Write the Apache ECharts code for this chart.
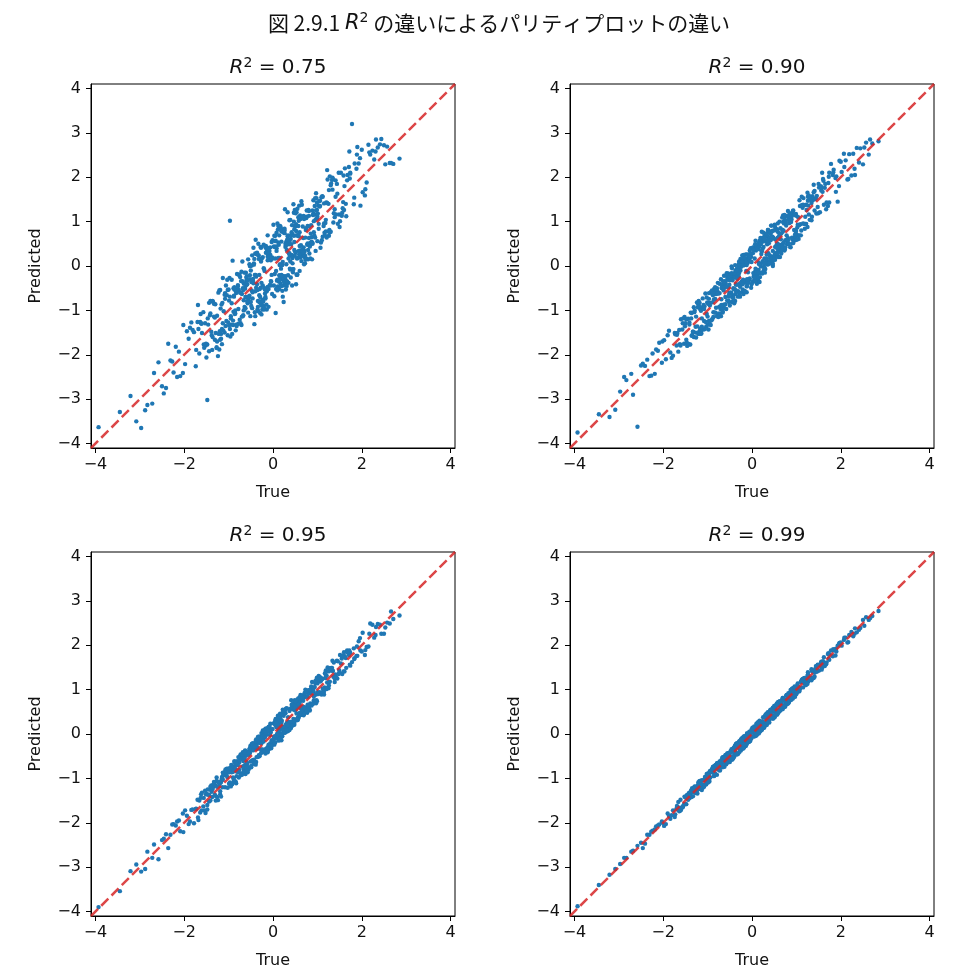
<!DOCTYPE html>
<html>
<head>
<meta charset="utf-8">
<script src="https://cdn.jsdelivr.net/npm/echarts@6/dist/echarts.min.js"></script>
<style>html,body{margin:0;padding:0;background:#fff}#c{width:975px;height:980px}</style>
</head>
<body>
<div id="c"></div>
<script>
const mainTitle = '図 2.9.1 ';
const mainTitleRest = ' の違いによるパリティプロットの違い';
const r2Labels = ['0.75', '0.90', '0.95', '0.99'];
const xName = 'True';
const yName = 'Predicted';
const axisRange = [-4.1, 4.1];
const xTickValues = [-4, -2, 0, 2, 4];
const yTickValues = [-4, -3, -2, -1, 0, 1, 2, 3, 4];

const trueVals = [
0.12,-0.85,1.34,-0.27,0.56,-1.62,0.03,0.91,-0.44,2.07,-1.13,0.38,-0.09,1.71,-0.66,0.22,-2.31,0.74,-0.51,1.05,
-0.18,0.47,-1.39,0.83,-0.02,1.22,-0.73,0.15,-1.87,0.61,0.29,-0.35,1.58,-0.97,0.06,-0.58,2.44,-1.21,0.41,-0.13,
0.95,-0.61,0.33,-1.05,1.89,-0.24,0.68,-0.79,0.11,-1.48,1.16,-0.31,0.52,-2.02,0.19,0.87,-0.47,1.41,-0.91,-0.05,
0.26,-1.31,0.72,2.63,-0.38,0.09,-0.69,1.03,-1.74,0.44,-0.16,1.27,-0.83,0.58,-0.29,1.93,-1.08,0.35,-0.55,0.01,
-3.93,0.64,-0.21,1.12,-0.94,0.17,-1.56,0.79,0.31,-0.42,2.19,-0.71,0.48,-1.17,0.08,-0.33,1.49,-0.88,0.24,-2.58,
0.53,-0.11,1.64,-0.64,0.36,-1.27,0.97,-0.19,0.66,-0.99,1.31,-0.48,0.14,-1.69,0.81,0.04,-0.57,2.28,-0.36,0.45,
-0.77,1.19,-0.26,0.59,-2.16,0.28,-0.52,1.78,-1.01,0.13,0.86,-0.39,1.08,-1.42,0.21,-0.07,0.69,-1.24,2.85,-0.63,
0.39,-0.93,1.45,-0.14,0.77,-1.81,0.05,-0.46,1.23,-0.68,0.32,-1.11,1.97,-0.23,0.54,-0.86,0.18,-1.35,0.92,-3.21,
1.02,-0.34,0.46,-1.52,0.71,-0.12,1.36,-0.74,0.25,-2.41,0.62,-0.03,1.53,-0.96,0.37,-0.28,2.11,-0.59,0.10,-1.19,
-0.45,0.84,-1.02,0.20,1.67,-0.67,0.43,-1.33,0.94,-0.17,0.57,-2.09,1.14,-0.40,0.16,-0.82,1.28,-0.08,0.63,-1.60,
0.30,-0.72,1.84,-1.15,0.49,0.02,-0.53,1.10,-1.78,0.76,-0.22,0.40,-0.90,2.36,-0.32,0.88,-1.44,0.27,-0.60,1.39,
-1.09,0.60,-0.15,1.50,-0.81,0.23,-2.72,0.99,-0.37,0.51,-1.26,0.07,1.74,-0.54,0.34,-0.98,1.20,-0.25,0.73,2.71,
-0.41,1.06,-1.63,0.42,-0.06,0.89,-1.20,0.55,2.00,-0.70,0.14,-1.37,0.80,-0.30,1.61,-0.87,0.28,-0.12,1.00,-2.24,
0.67,-0.50,1.25,-1.04,0.10,-3.08,0.47,1.44,-0.62,0.19,-1.50,0.93,-0.20,0.70,-0.95,2.50,-0.43,0.31,-1.14,0.58,
-0.27,0.82,-1.90,0.37,1.18,-0.56,0.05,-0.76,1.56,-1.30,0.60,-0.10,0.99,-1.66,0.26,1.82,-0.36,-0.84,0.50,-0.01,
1.30,-0.65,0.22,-1.46,0.75,-2.88,0.39,1.07,-0.29,0.65,-1.07,0.12,2.15,-0.49,0.85,-1.23,0.33,-0.17,1.60,-0.78,
0.44,-1.36,0.96,-0.24,0.52,-1.98,1.35,-0.60,0.17,-0.89,1.90,-0.11,0.70,-1.55,0.29,2.57,-0.40,0.90,-0.74,-2.97,
0.08,1.15,-0.52,0.62,-1.17,0.35,1.72,-0.31,-0.05,-1.41,0.78,2.32,-0.66,0.48,-1.00,1.26,-0.19,0.57,-2.50,0.15
];
const trueVals2 = [
-0.32,0.71,-1.18,0.05,1.46,-0.63,0.27,-0.89,0.52,-1.73,0.98,-0.14,0.36,-0.47,1.83,-1.02,0.13,-0.28,0.64,-2.12,
0.45,-0.06,1.09,-1.36,0.21,-0.53,0.78,-0.97,2.24,-0.19,0.59,-1.21,0.02,1.37,-0.71,0.30,-1.57,0.89,-0.38,0.16,
-0.84,1.28,-0.12,0.43,-2.36,0.69,-0.44,1.01,-0.25,0.08,-1.09,1.62,-0.58,0.24,-0.93,0.81,2.02,-0.36,0.54,-1.48,
0.37,-0.75,0.11,-1.64,1.19,-0.22,0.62,-0.04,-1.27,0.93,-0.51,1.74,-0.15,0.48,-2.68,0.19,-0.67,1.33,-0.09,0.72,
-1.12,0.26,1.55,-0.41,0.84,-0.87,0.07,-1.94,0.51,-0.30,1.15,-0.61,2.41,-0.17,0.38,-1.31,0.66,-0.02,-0.79,1.04,
0.17,-1.53,0.91,-0.35,0.56,-1.03,1.42,-0.11,0.29,-0.68,2.08,-0.48,0.74,-1.22,0.03,1.21,-0.57,-3.45,0.41,-0.26,
1.68,-0.92,0.33,-0.14,0.79,-1.41,0.12,-0.55,1.26,-0.33,0.58,-2.27,0.95,-0.07,0.47,-0.81,1.51,-1.15,0.22,-0.43,
-0.64,0.99,-0.18,1.88,-1.06,0.35,-0.39,0.68,-1.68,0.14,1.12,-0.26,0.53,-0.95,2.66,-0.50,0.09,-1.33,0.82,-0.12,
0.61,-0.29,-1.47,0.40,1.34,-0.73,0.18,-0.01,-1.19,0.87,-0.56,0.28,1.59,-0.85,0.46,-2.03,0.70,-0.20,1.03,-0.66,
-0.08,0.52,-0.99,1.17,-0.37,0.23,-1.61,0.76,-0.23,2.31,-0.70,0.10,0.96,-1.26,0.34,-0.46,1.41,-0.13,-2.83,0.63,
0.89,-0.42,0.15,-1.08,0.60,-0.16,1.73,-0.78,0.39,-0.05,-1.38,1.06,-0.60,0.25,-0.34,0.81,-1.84,0.49,1.25,-0.21,
-0.52,1.39,0.06,-0.90,0.44,-2.19,0.73,-0.27,1.00,-0.62,0.19,-1.16,1.96,-0.40,0.57,-0.83,0.31,2.53,-0.10,-1.44,
0.28,-0.69,1.22,-0.20,0.66,-1.29,-0.03,0.83,-0.45,1.48,-0.97,0.14,-0.31,0.92,-1.70,0.50,1.65,-0.58,0.07,-2.46,
1.11,-0.35,0.42,-0.76,0.20,1.57,-1.13,0.55,-0.18,-0.88,0.75,-0.49,2.17,-0.11,0.32,-1.51,0.97,-0.64,0.04,1.30
];

const pred075 = [
0.53,-1.07,1.99,-0.85,0.68,-1.29,-0.68,1.18,-0.39,1.59,-0.27,0.23,0.30,2.23,-1.00,-0.69,-2.13,0.81,-1.13,1.34,
-0.62,1.20,-1.48,0.46,0.19,2.16,-1.29,0.18,-1.39,0.35,-0.53,0.26,1.44,1.02,-1.06,-0.41,2.86,-1.88,0.49,0.41,
0.64,-0.15,1.21,-1.24,2.51,-0.98,0.63,-0.46,-0.46,-3.02,0.75,-0.20,-0.41,-1.33,0.55,0.65,-0.95,1.56,0.12,-0.34,
0.84,-1.66,0.06,2.32,-0.24,-0.33,0.10,0.95,-2.26,0.71,0.45,0.81,-0.61,0.67,-1.06,2.31,-0.61,0.17,-0.80,0.93,
-3.63,0.11,-0.05,1.56,-1.32,0.88,-1.77,0.15,0.36,-1.31,2.51,-0.13,0.36,-1.64,0.34,0.50,1.16,-0.69,-0.81,-2.17,
-0.19,0.25,1.40,-0.15,0.49,-1.85,1.64,-0.50,0.23,-0.78,1.86,-0.55,-0.52,-0.88,0.63,0.43,-0.84,2.40,0.28,-0.07,
-0.54,0.78,-0.89,1.36,-2.50,0.43,0.00,3.20,-1.27,-0.35,0.92,0.59,0.53,-1.11,0.02,-0.43,1.13,-2.03,2.42,-0.51,
-0.08,-0.31,1.63,-0.98,0.48,-1.44,0.56,-0.59,1.95,-1.13,0.59,-1.02,1.36,0.20,0.17,-1.08,0.84,-0.81,0.76,-2.93,
1.36,-0.92,1.39,-1.79,0.20,0.13,0.98,-0.60,-0.44,-2.75,1.08,-0.20,2.10,-1.59,0.29,0.43,1.88,-0.23,-0.31,-0.54,
-0.34,0.52,-0.54,0.79,1.93,-1.11,-0.44,-1.14,1.35,-0.73,0.90,-2.48,0.90,0.28,0.04,-1.35,2.02,0.20,0.28,-1.51,
0.04,-0.34,2.31,-1.76,1.26,-0.44,-0.67,0.58,-1.49,1.11,-0.90,0.61,-1.23,2.67,0.24,0.15,-1.92,1.28,-0.43,1.28,
-0.65,0.76,-0.54,0.88,-0.54,0.76,-3.10,1.07,0.27,0.30,-1.70,-0.52,2.10,-0.72,-0.21,-0.27,1.43,0.17,0.64,2.30,
-1.04,1.35,-1.08,0.25,0.42,1.25,-1.47,-0.19,2.62,-0.63,-0.21,-1.89,1.26,-0.52,1.80,-0.53,-0.30,0.69,0.56,-2.40,
0.89,-0.81,0.78,-0.66,-0.55,-3.50,1.00,1.85,-0.70,0.78,-2.06,0.69,-0.07,0.31,-1.13,2.72,0.06,-0.45,-0.83,1.02,
0.10,0.28,-1.64,1.03,0.97,-1.05,0.17,-0.19,1.20,-0.86,0.45,-0.92,1.26,-1.97,0.74,1.39,-0.41,-1.45,0.89,0.17,
1.82,-0.40,-0.24,-1.32,1.08,-3.25,0.10,0.41,0.16,1.38,-1.35,0.18,2.73,-0.90,0.73,-0.60,0.67,-0.70,1.26,-0.97,
0.06,-0.79,1.05,-0.76,0.94,-2.21,1.96,-0.26,-0.40,-1.03,2.68,0.34,0.04,-1.84,0.46,2.69,-1.13,1.15,-0.25,-3.65,
0.75,0.96,-0.21,0.19,-1.53,0.59,2.58,-0.80,0.13,-0.79,0.51,2.85,-0.77,0.83,-0.53,0.68,-0.51,0.71,-2.71,-0.29
];
const pred075b = [
0.16,0.34,-0.96,0.68,0.95,-0.49,-0.41,-0.50,0.79,-1.89,1.53,-0.57,0.28,0.24,1.54,-1.56,0.48,-0.49,1.46,-1.93,
-0.14,0.25,1.55,-1.60,-0.56,0.04,0.90,-1.42,2.60,-0.11,0.26,-0.55,0.44,1.19,-1.33,0.55,-1.04,0.50,-0.49,0.90,
-0.56,0.76,-0.47,0.92,-1.75,0.42,0.41,1.18,-0.88,0.40,-1.50,2.20,-0.80,-0.23,-0.84,1.24,1.66,0.30,-0.20,-1.77,
0.56,-1.21,0.82,-1.26,1.04,-0.80,1.06,-0.35,-1.83,1.16,0.00,2.08,-0.87,0.54,-2.41,-0.20,-0.54,1.94,0.26,0.24,
-1.45,0.80,1.13,-0.20,0.17,-0.48,-0.11,-1.47,1.19,-0.82,1.41,-0.70,2.74,0.42,-0.06,-1.16,0.38,-0.63,-0.43,1.46,
-0.28,-1.29,1.48,-0.54,0.18,-0.31,1.16,0.30,-0.35,-0.50,1.73,0.01,0.85,-1.53,0.68,0.64,-0.79,-3.29,0.70,-1.09,
2.05,-1.53,0.59,0.38,0.36,-1.07,0.90,-0.69,1.71,-1.02,0.34,-2.15,1.53,-0.43,0.68,-0.18,1.01,-1.42,0.09,0.03,
-0.92,1.43,-0.73,2.19,-0.44,-0.38,-0.20,0.31,-1.42,0.69,0.66,-0.38,1.21,-1.18,2.32,-0.10,-0.50,-0.85,0.89,0.21,
1.14,-0.70,-1.18,-0.26,1.72,-0.60,-0.06,0.58,-1.66,0.55,0.15,0.50,2.04,-1.00,-0.07,-2.41,1.06,-0.98,0.84,-0.39,
0.34,0.69,-1.34,0.69,0.27,-0.32,-1.30,1.25,-0.44,2.58,-1.14,0.96,0.34,-1.12,0.69,-0.73,1.93,-0.53,-3.13,0.47,
0.52,0.16,0.02,-0.74,-0.11,0.30,1.97,-1.30,1.04,-0.44,-1.56,1.47,-0.33,-0.36,-0.79,1.13,-1.27,0.23,1.40,0.48,
-0.30,1.10,0.57,-1.33,0.18,-1.82,0.14,0.41,1.11,-0.95,-0.45,-0.87,2.43,-0.57,1.10,-1.32,0.49,2.29,-0.52,-0.83,
-0.23,-0.34,1.42,-0.94,1.09,-1.51,0.54,0.44,-0.29,2.10,-0.69,-0.32,-0.66,1.01,-1.26,0.32,1.12,-0.33,0.44,-2.87,
1.57,-0.98,0.76,-0.21,-0.22,1.30,-1.29,1.29,-0.53,-0.67,0.17,-0.36,2.56,0.38,-0.35,-1.75,1.25,-0.98,-0.18,0.77
];

const pred090 = [
-0.09,-0.51,1.42,-0.69,0.83,-1.77,0.42,0.60,-0.32,2.53,-1.18,0.10,0.10,1.35,-0.43,0.77,-2.48,1.05,-0.60,0.61,
0.11,0.34,-1.77,1.05,-0.49,1.38,-0.40,-0.09,-1.46,0.67,-0.06,-0.17,2.10,-1.24,0.17,-0.97,2.65,-0.86,0.22,-0.11,
0.62,-0.36,0.26,-0.62,1.67,-0.60,0.82,-0.50,-0.40,-1.66,1.53,-0.57,0.60,-1.70,0.05,0.42,-0.28,1.69,-1.22,0.35,
0.43,-1.60,1.10,2.51,-0.79,0.35,-0.75,0.69,-1.51,0.91,-0.36,1.36,-0.48,0.31,-0.16,1.45,-1.24,0.66,-0.31,-0.36,
-3.75,0.85,-0.53,1.56,-0.83,-0.36,-1.29,0.60,0.67,-0.50,2.52,-1.13,0.63,-1.42,0.57,-0.29,1.19,-0.66,0.11,-3.62,
0.25,0.26,1.76,-0.87,0.81,-1.37,0.58,0.07,0.73,-1.32,1.51,-0.18,-0.32,-1.55,0.63,-0.23,-0.16,2.53,-0.41,0.79,
-0.38,0.95,-0.10,0.22,-1.88,0.17,-0.81,2.30,-0.82,0.46,0.43,-0.53,1.35,-1.77,0.27,0.17,0.49,-0.82,2.81,-0.94,
0.61,-1.33,1.18,0.17,0.91,-2.07,-0.31,-0.01,1.26,-0.50,0.10,-0.73,2.37,-0.35,0.83,-0.76,-0.25,-1.56,1.17,-3.40,
0.87,-0.06,0.12,-1.15,0.80,-0.59,1.57,-0.92,0.55,-2.25,0.37,0.40,1.21,-0.84,0.29,-0.66,2.38,-0.40,0.45,-1.48,
-0.81,0.97,-0.71,-0.01,1.28,-0.43,0.91,-1.48,0.64,0.03,0.51,-1.73,1.31,-0.84,0.43,-1.05,1.16,0.24,0.71,-1.20,
0.56,-0.91,2.17,-1.01,0.17,0.41,-0.48,0.69,-2.02,0.97,0.24,0.24,-0.62,2.66,-0.69,0.99,-1.19,-0.02,-0.70,1.83,
-1.43,0.33,0.07,1.85,-0.94,-0.17,-2.43,1.17,-0.63,0.93,-1.14,-0.13,1.43,-0.17,0.49,-1.43,1.11,-0.02,0.35,2.76,
-0.21,0.69,-1.77,0.72,-0.31,1.05,-0.79,0.47,2.35,-1.13,0.38,-1.18,0.52,-0.23,1.92,-1.04,0.66,-0.46,1.13,-1.97,
0.36,-0.32,1.65,-1.26,0.43,-3.24,0.00,1.53,-0.36,-0.16,-1.29,1.25,-0.31,1.14,-1.24,2.29,-0.28,0.07,-1.52,0.64,
-0.39,1.09,-1.56,0.07,1.37,-0.20,-0.16,-1.09,1.70,-1.04,0.20,0.07,0.80,-1.93,0.75,2.05,-0.42,-0.55,0.15,0.09,
1.04,-0.35,0.33,-1.80,0.58,-2.50,0.63,1.48,-0.61,0.60,-0.91,-0.30,1.95,-0.22,1.19,-1.36,0.05,0.02,1.96,-0.56,
0.77,-1.57,0.60,0.01,0.43,-1.67,1.11,-0.46,0.57,-1.19,2.02,-0.30,0.99,-1.18,-0.15,2.78,-0.22,0.64,-1.07,-2.83,
-0.32,1.38,-0.69,1.00,-0.97,0.03,1.87,-0.03,-0.28,-1.32,1.13,2.05,-1.05,0.64,-1.14,1.56,0.25,0.39,-2.24,0.08
];
const pred090b = [
-0.06,0.53,-0.83,-0.24,1.58,-0.22,0.05,-0.82,0.14,-1.54,0.67,0.10,0.81,-0.60,2.11,-1.08,-0.27,0.05,0.47,-1.91,
0.11,0.16,0.94,-1.06,0.60,-0.78,0.69,-0.61,2.04,-0.63,0.76,-1.53,0.29,1.48,-0.97,-0.07,-1.43,1.18,0.02,0.04,
-1.05,1.59,0.06,0.07,-2.11,0.77,-0.71,0.59,0.08,-0.06,-0.88,1.38,-0.21,0.39,-1.23,1.24,2.12,-0.55,0.21,-1.20,
0.75,-0.62,-0.18,-1.44,0.84,0.04,0.48,0.28,-1.50,0.52,-0.42,2.10,-0.33,0.21,-2.90,0.63,-0.98,1.49,-0.14,0.96,
-0.93,-0.11,1.80,-0.52,1.14,-1.15,0.49,-2.10,0.26,0.04,0.96,-0.34,2.33,-0.56,0.51,-0.93,0.45,0.21,-1.13,1.10,
0.48,-1.75,0.51,-0.18,0.80,-1.36,1.51,-0.39,0.65,-0.48,2.23,-0.60,0.37,-0.93,-0.16,0.95,-0.22,-3.34,0.17,0.16,
1.43,-0.58,0.17,0.26,0.49,-1.27,-0.23,-0.28,1.47,-0.42,0.96,-2.47,0.81,0.24,0.05,-0.63,1.77,-1.48,0.34,-0.66,
-0.36,0.78,0.15,1.98,-1.42,0.57,-0.52,1.09,-1.51,-0.16,1.37,0.11,0.29,-0.89,2.85,-0.89,0.38,-1.48,0.50,0.02,
0.44,0.10,-1.73,0.63,1.03,-0.61,0.53,-0.41,-0.91,1.03,-0.78,-0.06,1.67,-0.55,0.66,-2.18,0.43,0.23,0.93,-1.02,
-0.37,0.88,-0.85,0.95,-0.10,-0.15,-1.79,1.00,0.10,2.19,-0.30,-0.15,1.15,-1.61,0.27,-0.16,1.25,0.08,-2.57,0.20,
1.11,-0.72,0.52,-0.97,0.41,-0.57,2.01,-0.62,0.05,0.20,-1.05,0.92,-0.86,0.64,-0.27,0.58,-1.95,0.80,0.88,-0.41,
-0.65,1.66,-0.26,-0.55,0.62,-2.43,1.15,-0.47,0.71,-0.49,0.49,-1.53,1.80,-0.16,0.29,-0.74,0.69,2.67,-0.31,-1.75,
0.62,-0.88,0.95,0.01,0.28,-1.00,0.10,0.50,-0.05,1.33,-0.74,-0.14,-0.14,1.24,-1.79,0.15,1.85,-0.47,-0.35,-2.20,
0.80,-0.10,0.58,-1.15,0.50,1.77,-1.37,0.43,0.18,-0.61,0.42,-0.31,1.96,-0.45,0.73,-1.36,0.71,-0.55,0.36,1.53
];

const pred095 = [
0.27,-1.07,1.65,-0.35,0.37,-1.36,-0.09,0.96,-0.23,1.78,-1.03,0.56,-0.34,1.78,-0.80,0.55,-2.27,0.54,-0.27,0.94,
-0.35,0.56,-1.16,0.53,0.11,1.16,-0.46,-0.06,-1.97,0.77,0.05,-0.33,1.77,-1.12,0.34,-0.67,2.26,-1.09,0.76,-0.39,
1.15,-0.74,0.06,-0.91,1.97,0.01,0.52,-0.83,0.41,-1.70,1.05,-0.14,0.58,-2.21,-0.14,0.99,-0.25,1.34,-0.76,0.04,
0.03,-1.13,0.83,2.49,-0.12,0.00,-0.89,1.31,-1.69,0.27,-0.03,1.48,-1.11,0.61,-0.10,2.09,-1.20,0.09,-0.47,0.24,
-3.90,0.43,-0.05,1.02,-0.70,-0.10,-1.44,0.98,0.25,-0.28,2.49,-0.89,0.25,-1.08,-0.07,-0.06,1.44,-1.08,0.41,-2.82,
0.66,-0.36,1.71,-0.44,0.20,-0.98,0.89,-0.08,0.44,-1.12,1.49,-0.23,0.10,-1.88,0.96,0.26,-0.86,2.17,-0.30,0.27,
-0.98,1.33,0.02,0.47,-1.97,0.04,-0.43,1.62,-0.78,0.06,1.07,-0.69,1.20,-1.25,0.02,-0.02,0.55,-1.49,2.67,-0.37,
0.57,-0.86,1.25,0.10,0.48,-1.70,0.21,-0.59,1.50,-0.73,0.14,-0.89,1.88,0.08,0.31,-0.72,0.16,-1.15,0.76,-3.09,
0.90,-0.14,0.55,-1.78,0.88,-0.30,1.29,-0.50,0.04,-2.26,0.88,-0.14,1.59,-0.77,0.09,-0.15,1.96,-0.63,0.32,-1.36,
-0.21,0.69,-1.21,0.30,1.88,-0.61,0.19,-1.17,1.06,-0.44,0.76,-2.19,0.94,-0.32,0.41,-0.95,1.45,-0.30,0.57,-1.32,
0.21,-0.50,1.71,-0.97,0.76,-0.18,-0.42,1.25,-2.01,0.59,-0.08,0.14,-0.85,2.48,-0.50,1.17,-1.52,0.47,-0.85,1.25,
-0.93,0.83,-0.33,1.39,-0.61,0.09,-2.79,0.74,-0.24,0.72,-1.42,0.33,1.83,-0.76,0.38,-0.81,1.01,-0.14,1.00,2.59,
-0.64,1.18,-1.44,0.26,0.23,0.68,-1.12,0.78,1.86,-0.53,-0.13,-1.42,0.98,-0.20,1.41,-0.63,0.17,-0.31,1.14,-2.03,
0.86,-0.62,1.03,-0.78,-0.07,-2.94,0.57,1.65,-0.90,0.25,-1.35,0.74,0.03,0.60,-0.77,2.26,-0.58,0.58,-1.20,0.37,
-0.06,0.56,-2.03,0.52,1.26,-0.75,0.30,-0.64,1.35,-1.39,0.80,-0.24,1.27,-1.50,0.03,1.93,-0.18,-1.08,0.53,-0.18,
1.43,-0.85,0.46,-1.37,0.50,-3.04,0.27,1.26,-0.07,0.51,-0.80,0.22,1.97,-0.72,1.01,-1.18,0.12,-0.03,1.84,-0.86,
0.26,-1.21,1.19,-0.35,0.32,-1.72,1.42,-0.84,0.34,-0.77,1.76,0.10,0.61,-1.72,0.57,2.51,-0.27,0.68,-0.55,-3.10,
0.18,0.98,-0.32,0.75,-1.41,0.27,1.88,-0.06,-0.24,-1.19,0.66,2.41,-0.52,0.21,-0.82,1.16,-0.40,0.80,-2.39,0.35
];
const pred095b = [
-0.48,0.92,-1.09,-0.19,1.64,-0.70,0.54,-1.08,0.65,-1.68,0.76,0.02,0.25,-0.22,1.69,-0.82,-0.15,-0.20,0.61,-1.95,
0.68,-0.21,0.89,-1.24,-0.05,-0.34,0.84,-1.09,2.46,0.09,0.42,-1.11,-0.07,1.61,-0.56,0.09,-1.63,1.02,-0.63,0.46,
-0.70,1.18,0.13,0.61,-2.57,0.42,-0.33,1.21,-0.41,0.15,-0.87,1.75,-0.82,0.16,-0.76,0.62,2.28,-0.33,0.69,-1.60,
0.15,-0.58,0.15,-1.77,1.43,-0.13,0.44,-0.32,-1.06,0.88,-0.37,1.54,0.12,0.59,-2.49,-0.04,-0.75,1.49,0.16,0.58,
-0.92,0.14,1.70,-0.64,0.91,-0.61,-0.10,-1.84,0.73,-0.49,0.89,-0.49,2.46,0.12,0.24,-1.37,0.84,-0.23,-0.70,1.28,
-0.01,-1.28,1.02,-0.16,0.32,-0.97,1.27,0.11,0.21,-0.41,1.89,-0.61,0.95,-1.08,-0.24,1.31,-0.40,-3.54,0.21,-0.21,
1.84,-1.13,0.19,0.10,0.91,-1.50,0.32,-0.80,1.09,-0.15,0.66,-2.04,0.73,0.06,0.28,-0.85,1.78,-1.00,0.11,-0.67,
-0.55,1.25,-0.38,1.76,-0.88,0.20,-0.16,0.75,-1.94,0.28,0.94,-0.05,0.46,-1.18,2.76,-0.31,-0.04,-1.08,0.98,-0.41,
0.47,-0.11,-1.25,0.13,1.43,-0.93,0.44,0.11,-1.29,0.64,-0.41,0.47,1.41,-0.79,0.34,-1.79,0.45,-0.03,1.23,-0.73,
0.17,0.33,-0.86,1.37,-0.52,0.51,-1.72,0.52,-0.06,2.23,-0.92,0.21,1.20,-1.19,0.08,-0.30,1.27,-0.33,-2.65,0.85,
0.68,-0.28,-0.11,-0.85,0.70,0.03,1.56,-0.52,0.27,-0.25,-1.30,1.28,-0.75,0.16,-0.07,0.57,-1.71,0.31,1.41,-0.17,
-0.33,1.17,0.21,-0.98,0.19,-2.06,0.94,-0.43,0.94,-0.38,0.00,-1.04,2.16,-0.67,0.66,-0.66,0.10,2.40,0.16,-1.37,
0.17,-0.46,1.04,0.07,0.80,-1.50,-0.27,0.99,-0.37,1.35,-0.77,0.39,-0.50,0.85,-1.48,0.62,1.49,-0.83,0.25,-2.36,
1.24,-0.52,0.66,-0.81,0.00,1.75,-0.87,0.32,-0.07,-1.02,0.96,-0.75,2.26,0.08,0.20,-1.36,0.69,-0.42,-0.05,1.47
];

const pred099 = [
0.18,-0.94,1.46,-0.31,0.64,-1.73,0.05,0.84,-0.34,2.12,-1.26,0.41,-0.15,1.80,-0.52,0.14,-2.27,0.64,-0.44,1.03,
-0.26,0.58,-1.34,0.71,0.05,1.19,-0.64,0.01,-1.85,0.71,0.23,-0.22,1.49,-0.93,-0.05,-0.50,2.39,-1.09,0.39,-0.07,
1.04,-0.66,0.21,-0.98,1.92,-0.13,0.60,-0.66,0.07,-1.58,1.22,-0.44,0.62,-2.00,0.12,0.99,-0.56,1.38,-0.83,-0.01,
0.16,-1.23,0.76,2.57,-0.26,0.00,-0.67,1.14,-1.87,0.51,-0.19,1.19,-0.73,0.53,-0.20,1.99,-1.19,0.38,-0.62,0.14,
-3.88,0.53,-0.14,1.22,-0.98,0.30,-1.65,0.77,0.39,-0.54,2.23,-0.62,0.41,-1.06,-0.02,-0.30,1.43,-0.74,0.16,-2.52,
0.46,-0.02,1.53,-0.61,0.48,-1.33,1.05,-0.32,0.71,-0.89,1.27,-0.57,0.25,-1.62,0.69,0.06,-0.51,2.20,-0.23,0.42,
-0.66,1.14,-0.35,0.65,-2.08,0.16,-0.48,1.88,-1.08,0.26,0.76,-0.37,1.02,-1.33,0.26,-0.18,0.81,-1.27,2.77,-0.56,
0.35,-0.83,1.52,-0.27,0.86,-1.83,-0.03,-0.34,1.12,-0.62,0.35,-1.21,2.05,-0.12,0.48,-0.95,0.23,-1.22,0.80,-3.17,
1.10,-0.46,0.51,-1.41,0.64,-0.09,1.26,-0.65,0.38,-2.47,0.53,0.04,1.55,-1.07,0.47,-0.32,2.17,-0.47,-0.03,-1.24,
-0.54,0.90,-0.90,0.15,1.57,-0.59,0.54,-1.40,0.97,-0.08,0.44,-2.04,1.24,-0.48,0.14,-0.70,1.22,-0.04,0.70,-1.71,
0.37,-0.82,1.88,-1.06,0.37,0.13,-0.58,1.18,-1.72,0.67,-0.09,0.37,-0.80,2.29,-0.27,0.77,-1.36,0.21,-0.48,1.41,
-1.15,0.72,-0.23,1.55,-0.71,0.12,-2.65,0.95,-0.28,0.38,-1.23,0.15,1.67,-0.43,0.24,-0.92,1.22,-0.37,0.77,2.66,
-0.31,0.99,-1.66,0.54,-0.15,0.94,-1.12,0.44,2.06,-0.74,0.25,-1.28,0.68,-0.23,1.56,-0.74,0.20,-0.09,0.90,-2.18,
0.56,-0.42,1.31,-1.14,0.23,-3.04,0.40,1.53,-0.74,0.24,-1.58,1.04,-0.17,0.64,-0.85,2.57,-0.56,0.43,-1.18,0.66,
-0.22,0.73,-1.79,0.31,1.26,-0.44,-0.05,-0.79,1.63,-1.20,0.49,-0.06,0.91,-1.53,0.21,1.75,-0.27,-0.78,0.38,0.10,
1.22,-0.54,0.18,-1.39,0.62,-2.79,0.44,0.97,-0.17,0.59,-1.04,0.22,2.06,-0.51,0.93,-1.34,0.46,-0.24,1.64,-0.69,
0.53,-1.42,0.85,-0.11,0.54,-2.07,1.42,-0.50,0.05,-0.84,1.86,-0.03,0.81,-1.62,0.19,2.63,-0.43,1.02,-0.82,-2.93,
-0.04,1.19,-0.43,0.54,-1.06,0.30,1.82,-0.44,0.02,-1.38,0.68,2.38,-0.54,0.39,-1.04,1.34,-0.06,0.46,-2.45,0.08
];
const pred099b = [
-0.25,0.61,-1.14,0.17,1.40,-0.54,0.14,-0.87,0.63,-1.81,1.03,-0.25,0.49,-0.51,1.91,-1.09,0.23,-0.40,0.67,-2.06,
0.36,0.05,1.04,-1.28,0.09,-0.50,0.88,-1.04,2.30,-0.30,0.72,-1.23,0.11,1.27,-0.66,0.42,-1.65,0.85,-0.31,0.03,
-0.74,1.24,-0.23,0.49,-2.27,0.56,-0.37,0.93,-0.13,0.11,-1.15,1.73,-0.68,0.29,-0.85,0.69,1.99,-0.23,0.47,-1.44,
0.31,-0.66,0.23,-1.74,1.23,-0.29,0.73,-0.16,-1.19,0.95,-0.60,1.80,-0.05,0.35,-2.63,0.15,-0.54,1.25,-0.02,0.61,
-1.04,0.14,1.60,-0.31,0.76,-0.74,0.04,-2.03,0.58,-0.19,1.05,-0.57,2.35,-0.05,0.27,-1.22,0.61,0.04,-0.92,1.06,
0.28,-1.58,0.82,-0.28,0.69,-1.13,1.46,0.01,0.22,-0.71,2.17,-0.38,0.62,-1.16,-0.05,1.10,-0.54,-3.40,0.53,-0.32,
1.61,-0.82,0.21,-0.09,0.87,-1.45,0.23,-0.64,1.39,-0.27,0.47,-2.20,0.90,-0.17,0.59,-0.78,1.43,-1.06,0.09,-0.39,
-0.52,0.91,-0.12,1.77,-0.97,0.48,-0.45,0.78,-1.70,0.02,1.19,-0.22,0.44,-0.84,2.61,-0.63,0.17,-1.31,0.92,-0.19,
0.51,-0.22,-1.38,0.35,1.21,-0.62,0.20,-0.09,-1.07,0.81,-0.52,0.38,1.52,-0.72,0.35,-1.97,0.78,-0.32,1.06,-0.75,
-0.03,0.64,-1.09,1.25,-0.41,0.12,-1.48,0.69,-0.14,2.26,-0.64,-0.03,1.07,-1.29,0.44,-0.54,1.29,-0.06,-2.79,0.74,
0.78,-0.38,0.25,-1.17,0.72,-0.22,1.70,-0.67,0.26,0.02,-1.29,0.96,-0.55,0.17,-0.21,0.83,-1.91,0.55,1.13,-0.13,
-0.43,1.26,0.12,-0.79,0.36,-2.15,0.63,-0.15,0.95,-0.54,0.07,-1.13,2.03,-0.51,0.67,-0.89,0.44,2.44,-0.08,-1.48,
0.20,-0.59,1.25,-0.32,0.73,-1.18,-0.12,0.88,-0.58,1.56,-1.01,0.26,-0.25,0.82,-1.68,0.63,1.58,-0.63,0.16,-2.57,
1.17,-0.46,0.55,-0.72,0.11,1.45,-1.05,0.65,-0.24,-0.77,0.72,-0.42,2.07,0.01,0.27,-1.42,0.84,-0.62,0.14,1.22
];

const allTrue = trueVals.concat(trueVals2);
const predSets = [
  pred075.concat(pred075b),
  pred090.concat(pred090b),
  pred095.concat(pred095b),
  pred099.concat(pred099b)
];

const chart = echarts.init(document.getElementById('c'), null, {renderer: 'canvas'});

const gridLefts = [91, 570];
const gridTops = [84, 552];
const gridSize = 364;
const minusFmt = v => String(v).replace('-', '\u2212');

const grids = [], xAxes = [], yAxes = [], series = [], titles = [];

titles.push({
  text: mainTitle + '{i|R}{s|2}' + mainTitleRest,
  left: 494, top: 6, textAlign: 'center',
  textStyle: {
    fontSize: 21, fontWeight: 'normal', color: '#111',
    fontFamily: '"Noto Sans CJK JP", "DejaVu Sans", sans-serif',
    rich: {
      i: {fontSize: 21, fontStyle: 'italic', fontFamily: '"DejaVu Sans"', color: '#111'},
      s: {fontSize: 14, fontFamily: '"DejaVu Sans"', color: '#111', padding: [0, 0, 11, 0]}
    }
  }
});

for (let k = 0; k < 4; k++) {
  const col = k % 2, row = Math.floor(k / 2);
  const left = gridLefts[col], top = gridTops[row];
  grids.push({left: left, top: top, width: gridSize, height: gridSize, show: true,
    borderColor: '#000', borderWidth: 1, backgroundColor: '#fff', containLabel: false});
  xAxes.push({
    gridIndex: k, type: 'value', min: axisRange[0], max: axisRange[1],
    name: xName, nameLocation: 'middle', nameGap: 37,
    nameTextStyle: {fontSize: 16, color: '#111', fontFamily: '"DejaVu Sans"'},
    axisLine: {show: true, onZero: false, lineStyle: {color: '#000', width: 1}},
    axisTick: {show: true, length: 5, customValues: xTickValues, lineStyle: {color: '#000'}},
    axisLabel: {show: true, customValues: xTickValues, formatter: minusFmt, margin: 9,
      fontSize: 16, color: '#111', fontFamily: '"DejaVu Sans"'},
    splitLine: {show: false}
  });
  yAxes.push({
    gridIndex: k, type: 'value', min: axisRange[0], max: axisRange[1],
    name: yName, nameLocation: 'middle', nameGap: 47,
    nameTextStyle: {fontSize: 16, color: '#111', fontFamily: '"DejaVu Sans"'},
    axisLine: {show: true, onZero: false, lineStyle: {color: '#000', width: 1}},
    axisTick: {show: true, length: 5, customValues: yTickValues, lineStyle: {color: '#000'}},
    axisLabel: {show: true, customValues: yTickValues, formatter: minusFmt, margin: 10,
      fontSize: 16, color: '#111', fontFamily: '"DejaVu Sans"'},
    splitLine: {show: false}
  });
  const pts = allTrue.map((t, i) => [t, predSets[k][i]]);
  series.push({
    type: 'scatter', xAxisIndex: k, yAxisIndex: k, data: pts,
    symbolSize: 4.4, itemStyle: {color: '#1f77b4', opacity: 1}, z: 2, silent: true
  });
  series.push({
    type: 'line', xAxisIndex: k, yAxisIndex: k,
    data: [[axisRange[0], axisRange[0]], [axisRange[1], axisRange[1]]],
    showSymbol: false, symbol: 'none', z: 3, silent: true,
    lineStyle: {color: 'rgba(214,39,40,0.85)', width: 2.5, type: [10, 4.5]}
  });
  titles.push({
    text: '{i|R}{s|2} = ' + r2Labels[k],
    left: left + gridSize / 2, top: top - 33, textAlign: 'center',
    textStyle: {
      fontSize: 20, fontWeight: 'normal', color: '#111', fontFamily: '"DejaVu Sans"',
      rich: {
        i: {fontSize: 20, fontStyle: 'italic', fontFamily: '"DejaVu Sans"', color: '#111'},
        s: {fontSize: 14, fontFamily: '"DejaVu Sans"', color: '#111', padding: [0, 0, 10, 0]}
      }
    }
  });
}

chart.setOption({
  animation: false,
  backgroundColor: '#fff',
  title: titles,
  grid: grids,
  xAxis: xAxes,
  yAxis: yAxes,
  series: series
});
</script>
</body>
</html>
